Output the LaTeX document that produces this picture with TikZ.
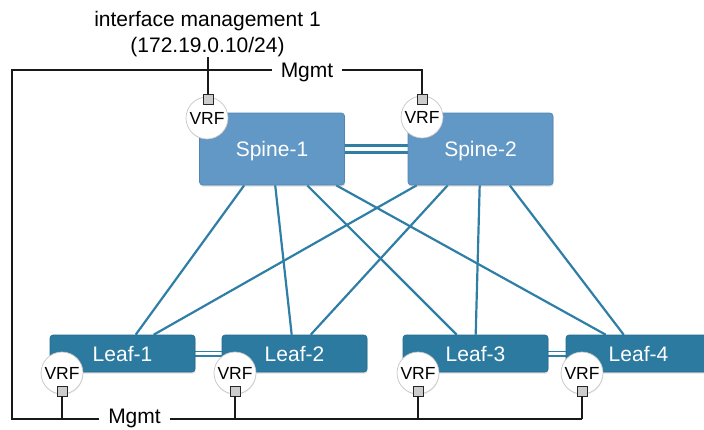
\documentclass[tikz,border=0pt]{standalone}
\usepackage{fontspec}
\setmainfont{Liberation Sans}
\usetikzlibrary{shadows,backgrounds}

\definecolor{spinefill}{HTML}{6298C5}
\definecolor{spineedge}{HTML}{4F86B5}
\definecolor{leaffill}{HTML}{2C7AA0}
\definecolor{leafedge}{HTML}{246A8E}
\definecolor{linkc}{HTML}{2F7EA6}

\begin{document}
\begin{tikzpicture}[x=1pt,y=-1pt,
  box/.style={rectangle, rounded corners=3pt, minimum width=145pt, inner sep=0pt,
    text=white, font=\fontsize{21}{25}\selectfont, text height=15pt, text depth=0pt,
    drop shadow={opacity=0.25, shadow xshift=0.6pt, shadow yshift=-1.6pt}},
  spinebox/.style={box, fill=spinefill, draw=spineedge, line width=0.6pt, minimum height=72pt},
  leafbox/.style={box, fill=leaffill, draw=leafedge, line width=0.6pt, minimum height=37pt},
  link/.style={draw=linkc, line width=2.2pt},
  peer/.style={draw=linkc, double=white},
  vrf/.style={circle, fill=white, draw=gray!45, line width=0.7pt, minimum size=42pt, inner sep=0pt,
    font=\fontsize{17.5}{20}\selectfont,
    drop shadow={opacity=0.12, shadow xshift=0.4pt, shadow yshift=-1.2pt}},
  port/.style={rectangle, fill=gray!40, draw=black!85, line width=0.8pt, minimum size=10pt, inner sep=0pt},
  mgmt/.style={draw=black!90, line width=1.3pt},
  mgmtlabel/.style={font=\fontsize{21}{25}\selectfont, inner xsep=9pt, inner ysep=0pt, anchor=base}
]
\useasboundingbox (0,0) rectangle (704,429);
\clip (0,0) rectangle (704,429);

% switches
\node[spinebox] (spine1) at (272,149) {Spine-1};
\node[spinebox] (spine2) at (480.5,149) {Spine-2};
\node[leafbox] (leaf1) at (122.5,353.5) {Leaf-1};
\node[leafbox] (leaf2) at (294.5,353.5) {Leaf-2};
\node[leafbox] (leaf3) at (475.5,353.5) {Leaf-3};
\node[leafbox] (leaf4) at (638.5,353.5) {Leaf-4};

% fabric links and peer links, behind the switches
\begin{scope}[on background layer]
\draw[link] ([xshift=45pt]spine1.south west) -- ([xshift=86pt]leaf1.north west);
\draw[link] ([xshift=76pt]spine1.south west) -- ([xshift=70pt]leaf2.north west);
\draw[link] ([xshift=108pt]spine1.south west) -- ([xshift=54pt]leaf3.north west);
\draw[link] ([xshift=137pt]spine1.south west) -- ([xshift=40pt]leaf4.north west);
\draw[link] ([xshift=9pt]spine2.south west) -- ([xshift=104pt]leaf1.north west);
\draw[link] ([xshift=40pt]spine2.south west) -- ([xshift=89pt]leaf2.north west);
\draw[link] ([xshift=72pt]spine2.south west) -- ([xshift=73pt]leaf3.north west);
\draw[link] ([xshift=102pt]spine2.south west) -- ([xshift=58pt]leaf4.north west);

\draw[peer, line width=2.3pt, double distance=4.5pt] (spine1.east) -- (spine2.west);
\draw[peer, line width=1.9pt, double distance=2.2pt] (leaf1.east) -- (leaf2.west);
\draw[peer, line width=1.9pt, double distance=2.2pt] (leaf3.east) -- (leaf4.west);
\end{scope}

% management VRFs and ports
\node[vrf] (vrfS1) at (207,118) {VRF};
\node[vrf] (vrfS2) at (422,117) {VRF};
\node[vrf] (vrfL1) at (62,373) {VRF};
\node[vrf] (vrfL2) at (235,373) {VRF};
\node[vrf] (vrfL3) at (418,373) {VRF};
\node[vrf] (vrfL4) at (582,373) {VRF};

\node[port] (portS1) at (208,99) {};
\node[port] (portS2) at (422,99) {};
\node[port] (portL1) at (62,391) {};
\node[port] (portL2) at (235,391) {};
\node[port] (portL3) at (418,391) {};
\node[port] (portL4) at (582,391) {};

% management network
\coordinate (tl) at (12,70);
\coordinate (bl) at (12,419);
\node[mgmtlabel] (mgmtT) at (307,77) {Mgmt};
\node[mgmtlabel] (mgmtB) at (134.5,423) {Mgmt};

\draw[mgmt] (tl -| mgmtT.west) -- (tl) -- (bl) -- (bl -| mgmtB.west);
\draw[mgmt] (tl -| mgmtT.east) -- (tl -| portS2) -- (portS2.north);
\draw[mgmt] (bl -| mgmtB.east) -- (bl -| portL4);
\draw[mgmt] (portL1.south) -- (portL1 |- bl);
\draw[mgmt] (portL2.south) -- (portL2 |- bl);
\draw[mgmt] (portL3.south) -- (portL3 |- bl);
\draw[mgmt] (portL4.south) -- (portL4 |- bl);

% management interface address
\node[font=\fontsize{21}{26}\selectfont, align=center, inner sep=0pt, anchor=north] (iface) at (207.5,10.7)
  {interface management 1\\(172.19.0.10/24)};
\coordinate (ifacetail) at (208,57);
\draw[mgmt] (ifacetail) -- (portS1.north);
\end{tikzpicture}
\end{document}
